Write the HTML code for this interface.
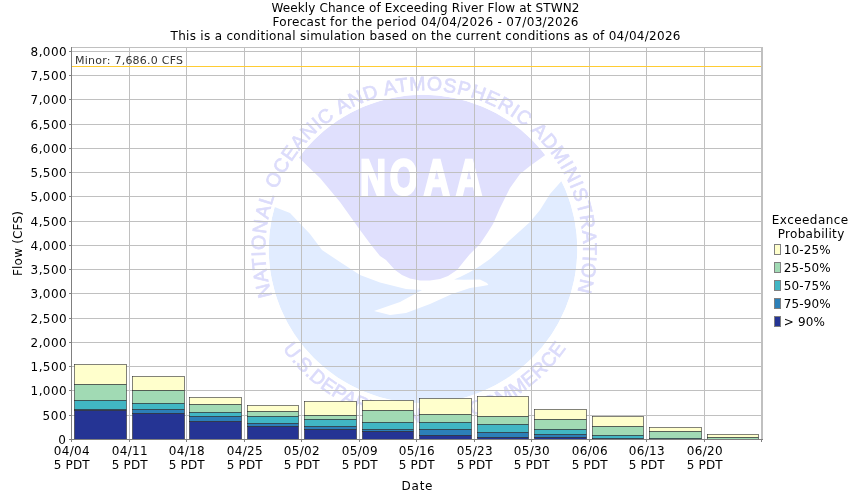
<!DOCTYPE html>
<html><head><meta charset="utf-8"><title>Weekly Chance of Exceeding River Flow at STWN2</title>
<style>html,body{margin:0;padding:0;background:#fff}svg{display:block}text{font-family:"DejaVu Sans","Liberation Sans",sans-serif;fill:#000}</style></head><body>
<svg width="850" height="500" viewBox="0 0 850 500">
<rect width="850" height="500" fill="#fff"/>
<g id="wm">
<defs><clipPath id="dc"><circle cx="423" cy="249" r="154.3"/></clipPath>
<path id="tp" d="M272.15,295.79 A159.0,159.0 0 1 1 577.04,293.13"/>
<path id="bp" d="M282.66,348.78 A173.0,173.0 0 0 0 570.91,340.98"/>
</defs>
<g clip-path="url(#dc)"><path d="M298.8,157.5 A154.3,154.3 0 0 1 545.3,155.0 L530,166 L520,174 L510,188 L500,208 L493,224 L488,232 L480,244 L470,254 L465,260 L457,270 L448,276 L440,279 L430,280.4 L420,280.4 L410,278.4 L402,275 L395,270 L386,260 L380,256 L370,243.5 L360,230 L350,216 L340,202 L330,190 L320,178 L310,168.5 Z" fill="#e0e0fd"/>
<path d="M274.6,206.9 L290,213 L310,234 L322,250 L340,262 L360,275 L380,282.4 L406,289 L422,290 L400,302 L374,311 L390,315 L406,313 L430,304 L452,294 L470,288 L480,286.4 L488.4,285 L487,283 L480,279.6 L464,279.8 L454,279.4 L460,277 L470,272 L480,266 L490,259 L500,250 L510,240 L520,231 L530,222 L540,210 L550,194 L561.5,181.0 A154.3,154.3 0 1 1 274.6,206.9 Z" fill="#e1ecff"/></g>
<text transform="translate(0,195.4) scale(0.72,1)" x="518.1 560.8 606.7 651.4" y="0" text-anchor="middle" font-size="50" style="font-family:'Liberation Sans',sans-serif;font-weight:bold;fill:#fff;stroke:#fff;stroke-width:2.6px;stroke-linejoin:miter">NOAA</text>
<text font-size="19.5" style="font-family:'Liberation Sans',sans-serif;fill:#dcdcfb;stroke:#dcdcfb;stroke-width:0.7px"><textPath href="#tp" startOffset="0" textLength="589.1" lengthAdjust="spacing">NATIONAL OCEANIC AND ATMOSPHERIC ADMINISTRATION</textPath></text>
<text font-size="19.5" style="font-family:'Liberation Sans',sans-serif;fill:#dcdcfb;stroke:#dcdcfb;stroke-width:0.7px;letter-spacing:0.33px"><textPath href="#bp" startOffset="0">U.S.<tspan dx="-6"> DEPARTMENT OF COMMERCE</tspan></textPath></text>
</g>
<text x="425.4" y="11.6" font-size="12" text-anchor="middle" textLength="308" lengthAdjust="spacing" >Weekly Chance of Exceeding River Flow at STWN2</text>
<text x="425.5" y="25.6" font-size="12" text-anchor="middle" textLength="306" lengthAdjust="spacing" >Forecast for the period 04/04/2026 - 07/03/2026</text>
<text x="425.5" y="39.6" font-size="12" text-anchor="middle" textLength="510" lengthAdjust="spacing" >This is a conditional simulation based on the current conditions as of 04/04/2026</text>
<g stroke="#c0c0c0" stroke-width="1" shape-rendering="crispEdges">
<line x1="72" x2="761" y1="51.5" y2="51.5"/>
<line x1="72" x2="761" y1="75.5" y2="75.5"/>
<line x1="72" x2="761" y1="99.5" y2="99.5"/>
<line x1="72" x2="761" y1="124.5" y2="124.5"/>
<line x1="72" x2="761" y1="148.5" y2="148.5"/>
<line x1="72" x2="761" y1="172.5" y2="172.5"/>
<line x1="72" x2="761" y1="196.5" y2="196.5"/>
<line x1="72" x2="761" y1="221.5" y2="221.5"/>
<line x1="72" x2="761" y1="245.5" y2="245.5"/>
<line x1="72" x2="761" y1="269.5" y2="269.5"/>
<line x1="72" x2="761" y1="293.5" y2="293.5"/>
<line x1="72" x2="761" y1="318.5" y2="318.5"/>
<line x1="72" x2="761" y1="342.5" y2="342.5"/>
<line x1="72" x2="761" y1="366.5" y2="366.5"/>
<line x1="72" x2="761" y1="390.5" y2="390.5"/>
<line x1="72" x2="761" y1="415.5" y2="415.5"/>
<line x1="129.5" x2="129.5" y1="48" y2="439"/>
<line x1="186.5" x2="186.5" y1="48" y2="439"/>
<line x1="244.5" x2="244.5" y1="48" y2="439"/>
<line x1="301.5" x2="301.5" y1="48" y2="439"/>
<line x1="359.5" x2="359.5" y1="48" y2="439"/>
<line x1="416.5" x2="416.5" y1="48" y2="439"/>
<line x1="474.5" x2="474.5" y1="48" y2="439"/>
<line x1="531.5" x2="531.5" y1="48" y2="439"/>
<line x1="589.5" x2="589.5" y1="48" y2="439"/>
<line x1="646.5" x2="646.5" y1="48" y2="439"/>
<line x1="704.5" x2="704.5" y1="48" y2="439"/>
</g>
<g stroke="#2a2a2a" stroke-width="0.58">
<rect x="74.5" y="364.5" width="52" height="20" fill="#ffffcc"/>
<rect x="74.5" y="384.5" width="52" height="16" fill="#a1dab4"/>
<rect x="74.5" y="400.5" width="52" height="9" fill="#41b6c4"/>
<rect x="74.5" y="409.5" width="52" height="1" fill="#2c7fb8"/>
<rect x="74.5" y="410.5" width="52" height="29" fill="#253494"/>
<rect x="132.5" y="376.5" width="52" height="14" fill="#ffffcc"/>
<rect x="132.5" y="390.5" width="52" height="13" fill="#a1dab4"/>
<rect x="132.5" y="403.5" width="52" height="6" fill="#41b6c4"/>
<rect x="132.5" y="409.5" width="52" height="4" fill="#2c7fb8"/>
<rect x="132.5" y="413.5" width="52" height="26" fill="#253494"/>
<rect x="189.5" y="397.5" width="52" height="7" fill="#ffffcc"/>
<rect x="189.5" y="404.5" width="52" height="8" fill="#a1dab4"/>
<rect x="189.5" y="412.5" width="52" height="4" fill="#41b6c4"/>
<rect x="189.5" y="416.5" width="52" height="5" fill="#2c7fb8"/>
<rect x="189.5" y="421.5" width="52" height="18" fill="#253494"/>
<rect x="247.5" y="405.5" width="51" height="6" fill="#ffffcc"/>
<rect x="247.5" y="411.5" width="51" height="5" fill="#a1dab4"/>
<rect x="247.5" y="416.5" width="51" height="7" fill="#41b6c4"/>
<rect x="247.5" y="423.5" width="51" height="3" fill="#2c7fb8"/>
<rect x="247.5" y="426.5" width="51" height="13" fill="#253494"/>
<rect x="304.5" y="401.5" width="52" height="14" fill="#ffffcc"/>
<rect x="304.5" y="415.5" width="52" height="4" fill="#a1dab4"/>
<rect x="304.5" y="419.5" width="52" height="7" fill="#41b6c4"/>
<rect x="304.5" y="426.5" width="52" height="3" fill="#2c7fb8"/>
<rect x="304.5" y="429.5" width="52" height="10" fill="#253494"/>
<rect x="362.5" y="400.5" width="51" height="10" fill="#ffffcc"/>
<rect x="362.5" y="410.5" width="51" height="12" fill="#a1dab4"/>
<rect x="362.5" y="422.5" width="51" height="7" fill="#41b6c4"/>
<rect x="362.5" y="429.5" width="51" height="2" fill="#2c7fb8"/>
<rect x="362.5" y="431.5" width="51" height="8" fill="#253494"/>
<rect x="419.5" y="398.5" width="52" height="16" fill="#ffffcc"/>
<rect x="419.5" y="414.5" width="52" height="8" fill="#a1dab4"/>
<rect x="419.5" y="422.5" width="52" height="7" fill="#41b6c4"/>
<rect x="419.5" y="429.5" width="52" height="6" fill="#2c7fb8"/>
<rect x="419.5" y="435.5" width="52" height="4" fill="#253494"/>
<rect x="477.5" y="396.5" width="51" height="20" fill="#ffffcc"/>
<rect x="477.5" y="416.5" width="51" height="8" fill="#a1dab4"/>
<rect x="477.5" y="424.5" width="51" height="8" fill="#41b6c4"/>
<rect x="477.5" y="432.5" width="51" height="5" fill="#2c7fb8"/>
<rect x="477.5" y="437.5" width="51" height="2" fill="#253494"/>
<rect x="534.5" y="409.5" width="52" height="10" fill="#ffffcc"/>
<rect x="534.5" y="419.5" width="52" height="10" fill="#a1dab4"/>
<rect x="534.5" y="429.5" width="52" height="5" fill="#41b6c4"/>
<rect x="534.5" y="434.5" width="52" height="3" fill="#2c7fb8"/>
<rect x="534.5" y="437.5" width="52" height="2" fill="#253494"/>
<rect x="592.5" y="416.5" width="51" height="10" fill="#ffffcc"/>
<rect x="592.5" y="426.5" width="51" height="9" fill="#a1dab4"/>
<rect x="592.5" y="435.5" width="51" height="3" fill="#41b6c4"/>
<rect x="592.5" y="438.5" width="51" height="1" fill="#2c7fb8"/>
<rect x="649.5" y="427.5" width="52" height="4" fill="#ffffcc"/>
<rect x="649.5" y="431.5" width="52" height="7" fill="#a1dab4"/>
<rect x="649.5" y="438.5" width="52" height="1" fill="#41b6c4"/>
<rect x="707.5" y="434.5" width="51" height="3" fill="#ffffcc"/>
<rect x="707.5" y="437.5" width="51" height="2" fill="#a1dab4"/>
</g>
<line x1="72" x2="761" y1="66.5" y2="66.5" stroke="#ffcc33" stroke-width="1" shape-rendering="crispEdges"/>
<text x="75" y="63.8" font-size="11" text-anchor="start" textLength="108" lengthAdjust="spacing" style="fill:#333">Minor: 7,686.0 CFS</text>
<g shape-rendering="crispEdges">
<rect x="71" y="47" width="692" height="1" fill="#c0c0c0"/>
<rect x="761" y="47" width="2" height="393" fill="#c0c0c0"/>
<rect x="71" y="47" width="1" height="393" fill="#808080"/>
<rect x="71" y="439" width="692" height="1" fill="#808080"/>
<rect x="69" y="51" width="2" height="1" fill="#808080"/>
<rect x="69" y="75" width="2" height="1" fill="#808080"/>
<rect x="69" y="99" width="2" height="1" fill="#808080"/>
<rect x="69" y="124" width="2" height="1" fill="#808080"/>
<rect x="69" y="148" width="2" height="1" fill="#808080"/>
<rect x="69" y="172" width="2" height="1" fill="#808080"/>
<rect x="69" y="196" width="2" height="1" fill="#808080"/>
<rect x="69" y="221" width="2" height="1" fill="#808080"/>
<rect x="69" y="245" width="2" height="1" fill="#808080"/>
<rect x="69" y="269" width="2" height="1" fill="#808080"/>
<rect x="69" y="293" width="2" height="1" fill="#808080"/>
<rect x="69" y="318" width="2" height="1" fill="#808080"/>
<rect x="69" y="342" width="2" height="1" fill="#808080"/>
<rect x="69" y="366" width="2" height="1" fill="#808080"/>
<rect x="69" y="390" width="2" height="1" fill="#808080"/>
<rect x="69" y="415" width="2" height="1" fill="#808080"/>
<rect x="69" y="439" width="2" height="1" fill="#808080"/>
<rect x="71" y="440" width="1" height="2" fill="#808080"/>
<rect x="129" y="440" width="1" height="2" fill="#808080"/>
<rect x="186" y="440" width="1" height="2" fill="#808080"/>
<rect x="244" y="440" width="1" height="2" fill="#808080"/>
<rect x="301" y="440" width="1" height="2" fill="#808080"/>
<rect x="359" y="440" width="1" height="2" fill="#808080"/>
<rect x="416" y="440" width="1" height="2" fill="#808080"/>
<rect x="474" y="440" width="1" height="2" fill="#808080"/>
<rect x="531" y="440" width="1" height="2" fill="#808080"/>
<rect x="589" y="440" width="1" height="2" fill="#808080"/>
<rect x="646" y="440" width="1" height="2" fill="#808080"/>
<rect x="704" y="440" width="1" height="2" fill="#808080"/>
<rect x="761" y="440" width="1" height="2" fill="#808080"/>
</g>
<text x="66.6" y="56" font-size="12" text-anchor="end" textLength="36" lengthAdjust="spacing" >8,000</text>
<text x="66.6" y="80" font-size="12" text-anchor="end" textLength="36" lengthAdjust="spacing" >7,500</text>
<text x="66.6" y="104" font-size="12" text-anchor="end" textLength="36" lengthAdjust="spacing" >7,000</text>
<text x="66.6" y="129" font-size="12" text-anchor="end" textLength="36" lengthAdjust="spacing" >6,500</text>
<text x="66.6" y="153" font-size="12" text-anchor="end" textLength="36" lengthAdjust="spacing" >6,000</text>
<text x="66.6" y="177" font-size="12" text-anchor="end" textLength="36" lengthAdjust="spacing" >5,500</text>
<text x="66.6" y="201" font-size="12" text-anchor="end" textLength="36" lengthAdjust="spacing" >5,000</text>
<text x="66.6" y="226" font-size="12" text-anchor="end" textLength="36" lengthAdjust="spacing" >4,500</text>
<text x="66.6" y="250" font-size="12" text-anchor="end" textLength="36" lengthAdjust="spacing" >4,000</text>
<text x="66.6" y="274" font-size="12" text-anchor="end" textLength="36" lengthAdjust="spacing" >3,500</text>
<text x="66.6" y="298" font-size="12" text-anchor="end" textLength="36" lengthAdjust="spacing" >3,000</text>
<text x="66.6" y="323" font-size="12" text-anchor="end" textLength="36" lengthAdjust="spacing" >2,500</text>
<text x="66.6" y="347" font-size="12" text-anchor="end" textLength="36" lengthAdjust="spacing" >2,000</text>
<text x="66.6" y="371" font-size="12" text-anchor="end" textLength="36" lengthAdjust="spacing" >1,500</text>
<text x="66.6" y="395" font-size="12" text-anchor="end" textLength="36" lengthAdjust="spacing" >1,000</text>
<text x="66.6" y="420" font-size="12" text-anchor="end" textLength="24" lengthAdjust="spacing" >500</text>
<text x="65.8" y="444" font-size="12" text-anchor="end" >0</text>
<text x="71.7" y="454.7" font-size="12" text-anchor="middle" textLength="36" lengthAdjust="spacing" >04/04</text>
<text x="71.7" y="468.7" font-size="12" text-anchor="middle" textLength="36" lengthAdjust="spacing" >5 PDT</text>
<text x="129.7" y="454.7" font-size="12" text-anchor="middle" textLength="36" lengthAdjust="spacing" >04/11</text>
<text x="129.7" y="468.7" font-size="12" text-anchor="middle" textLength="36" lengthAdjust="spacing" >5 PDT</text>
<text x="186.7" y="454.7" font-size="12" text-anchor="middle" textLength="36" lengthAdjust="spacing" >04/18</text>
<text x="186.7" y="468.7" font-size="12" text-anchor="middle" textLength="36" lengthAdjust="spacing" >5 PDT</text>
<text x="244.7" y="454.7" font-size="12" text-anchor="middle" textLength="36" lengthAdjust="spacing" >04/25</text>
<text x="244.7" y="468.7" font-size="12" text-anchor="middle" textLength="36" lengthAdjust="spacing" >5 PDT</text>
<text x="301.7" y="454.7" font-size="12" text-anchor="middle" textLength="36" lengthAdjust="spacing" >05/02</text>
<text x="301.7" y="468.7" font-size="12" text-anchor="middle" textLength="36" lengthAdjust="spacing" >5 PDT</text>
<text x="359.7" y="454.7" font-size="12" text-anchor="middle" textLength="36" lengthAdjust="spacing" >05/09</text>
<text x="359.7" y="468.7" font-size="12" text-anchor="middle" textLength="36" lengthAdjust="spacing" >5 PDT</text>
<text x="416.7" y="454.7" font-size="12" text-anchor="middle" textLength="36" lengthAdjust="spacing" >05/16</text>
<text x="416.7" y="468.7" font-size="12" text-anchor="middle" textLength="36" lengthAdjust="spacing" >5 PDT</text>
<text x="474.7" y="454.7" font-size="12" text-anchor="middle" textLength="36" lengthAdjust="spacing" >05/23</text>
<text x="474.7" y="468.7" font-size="12" text-anchor="middle" textLength="36" lengthAdjust="spacing" >5 PDT</text>
<text x="531.7" y="454.7" font-size="12" text-anchor="middle" textLength="36" lengthAdjust="spacing" >05/30</text>
<text x="531.7" y="468.7" font-size="12" text-anchor="middle" textLength="36" lengthAdjust="spacing" >5 PDT</text>
<text x="589.7" y="454.7" font-size="12" text-anchor="middle" textLength="36" lengthAdjust="spacing" >06/06</text>
<text x="589.7" y="468.7" font-size="12" text-anchor="middle" textLength="36" lengthAdjust="spacing" >5 PDT</text>
<text x="646.7" y="454.7" font-size="12" text-anchor="middle" textLength="36" lengthAdjust="spacing" >06/13</text>
<text x="646.7" y="468.7" font-size="12" text-anchor="middle" textLength="36" lengthAdjust="spacing" >5 PDT</text>
<text x="704.7" y="454.7" font-size="12" text-anchor="middle" textLength="36" lengthAdjust="spacing" >06/20</text>
<text x="704.7" y="468.7" font-size="12" text-anchor="middle" textLength="36" lengthAdjust="spacing" >5 PDT</text>
<text x="417" y="489.8" font-size="12" text-anchor="middle" textLength="31" lengthAdjust="spacing" >Date</text>
<text x="0" y="0" font-size="12" text-anchor="middle" transform="translate(22,243.5) rotate(-90)" textLength="65" lengthAdjust="spacing">Flow (CFS)</text>
<text x="810" y="223.8" font-size="12" text-anchor="middle" textLength="76.3" lengthAdjust="spacing" >Exceedance</text>
<text x="811" y="237.8" font-size="12" text-anchor="middle" textLength="66.5" lengthAdjust="spacing" >Probability</text>
<rect x="774.5" y="244.5" width="6" height="10" fill="#ffffcc" stroke="#808080" stroke-width="1" shape-rendering="crispEdges"/>
<text x="783.8" y="253.8" font-size="12" text-anchor="start" textLength="46.9" lengthAdjust="spacing" >10-25%</text>
<rect x="774.5" y="262.5" width="6" height="10" fill="#a1dab4" stroke="#808080" stroke-width="1" shape-rendering="crispEdges"/>
<text x="783.8" y="271.8" font-size="12" text-anchor="start" textLength="46.9" lengthAdjust="spacing" >25-50%</text>
<rect x="774.5" y="280.5" width="6" height="10" fill="#41b6c4" stroke="#808080" stroke-width="1" shape-rendering="crispEdges"/>
<text x="783.8" y="289.8" font-size="12" text-anchor="start" textLength="46.9" lengthAdjust="spacing" >50-75%</text>
<rect x="774.5" y="298.5" width="6" height="10" fill="#2c7fb8" stroke="#808080" stroke-width="1" shape-rendering="crispEdges"/>
<text x="783.8" y="307.8" font-size="12" text-anchor="start" textLength="46.9" lengthAdjust="spacing" >75-90%</text>
<rect x="774.5" y="316.5" width="6" height="10" fill="#253494" stroke="#808080" stroke-width="1" shape-rendering="crispEdges"/>
<text x="783.8" y="325.8" font-size="12" text-anchor="start" textLength="41" lengthAdjust="spacing" >&gt; 90%</text>
</svg></body></html>
